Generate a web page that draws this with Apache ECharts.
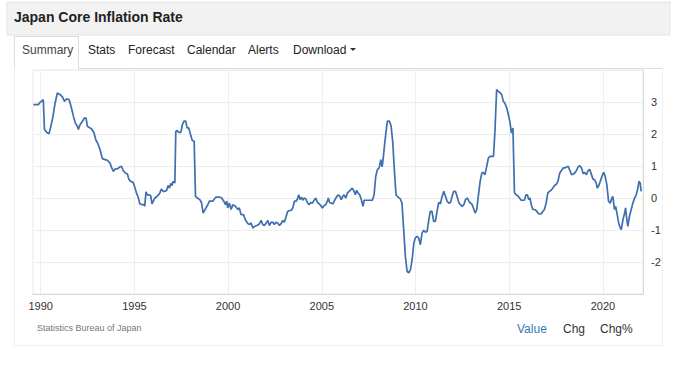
<!DOCTYPE html>
<html>
<head>
<meta charset="utf-8">
<script src="https://cdn.jsdelivr.net/npm/echarts@6/dist/echarts.min.js"></script>
<style>
html,body{margin:0;padding:0;background:#fff;}
#chart{width:679px;height:370px;}
</style>
</head>
<body>
<div id="chart"></div>
<script>
// Data (year as decimal, core inflation %)
const years = [
1989.61,1989.88,1989.97,1990.14,1990.20,1990.33,1990.45,1990.54,1990.64,1990.77,1990.89,1991.04,1991.16,1991.27,1991.39,1991.52,1991.62,1991.75,1991.85,1991.96,
1992.01,1992.10,1992.23,1992.33,1992.42,1992.49,1992.64,1992.74,1992.85,1992.94,1993.05,1993.17,1993.29,1993.44,1993.56,1993.70,1993.79,1993.88,1993.97,1994.09,
1994.22,1994.31,1994.40,1994.52,1994.63,1994.70,1994.81,1994.93,1995.02,1995.11,1995.20,1995.29,1995.41,1995.52,1995.55,1995.62,1995.69,1995.78,1995.87,1995.94,
1996.01,1996.09,1996.17,1996.26,1996.36,1996.44,1996.53,1996.62,1996.71,1996.80,1996.87,1996.94,1997.01,1997.06,1997.16,1997.21,1997.28,1997.37,1997.48,1997.56,
1997.65,1997.74,1997.81,1997.90,1998.01,1998.09,1998.19,1998.26,1998.36,1998.49,1998.58,1998.67,1998.79,1998.92,1999.00,1999.18,1999.27,1999.36,1999.54,1999.66,
1999.77,1999.86,1999.93,1999.98,2000.07,2000.16,2000.25,2000.39,2000.52,2000.60,2000.69,2000.82,2000.92,2001.05,2001.14,2001.23,2001.32,2001.40,2001.53,2001.64,
2001.76,2001.85,2001.94,2002.03,2002.12,2002.20,2002.29,2002.39,2002.47,2002.56,2002.65,2002.74,2002.83,2002.92,2003.00,2003.10,2003.18,2003.27,2003.36,2003.45,
2003.54,2003.63,2003.70,2003.77,2003.84,2003.91,2003.98,2004.06,2004.15,2004.23,2004.32,2004.41,2004.50,2004.59,2004.68,2004.77,2004.86,2004.95,2005.03,2005.12,
2005.21,2005.30,2005.35,2005.42,2005.51,2005.60,2005.69,2005.80,2005.88,2005.97,2006.04,2006.12,2006.19,2006.28,2006.37,2006.46,2006.55,2006.63,2006.72,2006.79,
2006.86,2006.93,2007.02,2007.11,2007.20,2007.26,2007.35,2007.52,2007.70,2007.79,2007.88,2007.97,2008.06,2008.15,2008.22,2008.27,2008.36,2008.43,2008.50,2008.61,
2008.70,2008.79,2008.87,2008.96,2009.07,2009.19,2009.28,2009.37,2009.46,2009.55,2009.64,2009.73,2009.82,2009.91,2009.99,2010.08,2010.17,2010.26,2010.35,2010.44,
2010.53,2010.62,2010.71,2010.79,2010.88,2010.97,2011.06,2011.15,2011.24,2011.33,2011.42,2011.51,2011.60,2011.69,2011.78,2011.87,2011.95,2012.04,2012.13,2012.22,
2012.31,2012.40,2012.49,2012.58,2012.67,2012.76,2012.85,2012.93,2013.00,2013.09,2013.18,2013.27,2013.36,2013.45,2013.54,2013.62,2013.71,2013.80,2013.89,2013.98,
2014.07,2014.16,2014.24,2014.33,2014.42,2014.51,2014.60,2014.69,2014.78,2014.87,2014.96,2015.05,2015.12,2015.20,2015.28,2015.37,2015.46,2015.55,2015.64,2015.73,
2015.81,2015.90,2015.97,2016.04,2016.11,2016.18,2016.26,2016.35,2016.44,2016.53,2016.61,2016.70,2016.79,2016.88,2016.97,2017.06,2017.15,2017.24,2017.33,2017.42,
2017.51,2017.60,2017.70,2017.79,2017.88,2017.97,2018.06,2018.15,2018.24,2018.33,2018.42,2018.50,2018.59,2018.68,2018.77,2018.86,2018.95,2019.03,2019.12,2019.21,
2019.30,2019.39,2019.47,2019.56,2019.65,2019.70,2019.78,2019.86,2019.95,2020.04,2020.12,2020.21,2020.30,2020.39,2020.48,2020.53,2020.62,2020.68,2020.75,2020.84,
2020.93,2020.98,2021.07,2021.16,2021.21,2021.28,2021.33,2021.42,2021.51,2021.60,2021.69,2021.78,2021.87,2021.92,2021.99,2022.04
];
const values = [
2.92,2.92,2.99,3.07,2.14,2.05,2.01,2.24,2.50,2.97,3.28,3.23,3.16,3.02,3.10,3.07,2.86,2.55,2.34,2.24,
2.14,2.29,2.40,2.50,2.50,2.24,2.19,2.14,2.03,1.82,1.70,1.51,1.23,1.20,1.18,1.09,0.94,0.83,0.91,0.91,
0.97,0.99,0.86,0.78,0.75,0.59,0.52,0.49,0.34,0.16,0.03,-0.18,-0.21,-0.21,-0.26,0.19,0.10,0.10,0.07,-0.18,
-0.10,0.00,0.03,0.08,0.16,0.28,0.21,0.21,0.23,0.39,0.31,0.45,0.39,0.52,0.47,2.08,2.11,2.05,2.05,2.29,
2.40,2.40,2.19,2.19,1.95,1.80,1.77,0.05,0.00,-0.05,-0.14,-0.47,-0.34,-0.21,-0.10,-0.10,-0.03,0.03,0.03,0.00,
-0.10,-0.21,-0.10,-0.31,-0.16,-0.36,-0.21,-0.26,-0.36,-0.31,-0.52,-0.52,-0.68,-0.80,-0.83,-0.78,-0.94,-0.89,-0.86,-0.83,
-0.70,-0.83,-0.86,-0.78,-0.70,-0.86,-0.76,-0.76,-0.83,-0.76,-0.78,-0.86,-0.80,-0.70,-0.76,-0.57,-0.42,-0.39,-0.39,-0.31,
-0.10,-0.10,-0.03,0.10,-0.05,0.03,-0.07,0.00,-0.03,-0.14,-0.21,-0.14,-0.16,-0.07,0.00,-0.14,-0.18,-0.24,-0.31,-0.24,
-0.21,-0.10,0.00,-0.14,-0.16,-0.18,-0.07,0.05,0.10,0.05,-0.05,0.05,0.10,0.00,0.16,0.21,0.26,0.31,0.21,0.10,
0.24,0.16,0.10,-0.05,-0.26,-0.07,-0.07,-0.07,-0.07,0.10,0.68,0.89,0.94,1.20,0.97,1.20,1.72,2.08,2.40,2.40,
2.24,1.72,0.89,0.10,0.03,-0.03,-0.16,-0.99,-1.82,-2.29,-2.34,-2.24,-1.93,-1.41,-1.25,-1.20,-1.25,-1.46,-1.09,-1.01,
-1.07,-1.04,-0.68,-0.42,-0.42,-0.73,-0.73,-0.42,-0.14,-0.18,0.05,0.21,0.05,-0.10,-0.16,-0.14,0.05,0.21,0.21,0.05,
-0.14,-0.21,-0.26,-0.21,-0.05,0.00,-0.10,-0.16,-0.18,-0.31,-0.47,-0.36,0.10,0.52,0.78,0.80,0.73,0.99,1.25,1.30,
1.30,1.30,2.08,3.39,3.33,3.30,3.23,3.02,2.95,2.81,2.60,2.34,2.03,2.19,0.16,0.10,0.07,0.00,-0.07,-0.07,
-0.07,0.10,0.10,-0.05,0.00,-0.21,-0.36,-0.36,-0.39,-0.47,-0.50,-0.50,-0.42,-0.36,-0.16,0.16,0.21,0.24,0.31,0.39,
0.42,0.52,0.78,0.86,0.94,0.94,0.97,0.99,0.86,0.73,0.75,0.78,0.86,0.97,1.01,0.94,0.76,0.80,0.73,0.86,
0.89,0.73,0.59,0.57,0.45,0.31,0.39,0.52,0.68,0.80,0.68,0.42,-0.10,-0.16,0.00,0.05,-0.36,-0.26,-0.47,-0.78,
-0.94,-0.99,-0.68,-0.47,-0.31,-0.68,-0.89,-0.57,-0.36,-0.16,0.00,0.10,0.31,0.52,0.47,0.21
];
const xTicks = [1990, 1995, 2000, 2005, 2010, 2015, 2020];
const yTicks = [-2, -1, 0, 1, 2, 3];
const tabs = ['Summary', 'Stats', 'Forecast', 'Calendar', 'Alerts', 'Download'];
const title = 'Japan Core Inflation Rate';
const source = 'Statistics Bureau of Japan';
const modes = ['Value', 'Chg', 'Chg%'];

const FONT = '"Liberation Sans", Arial, Helvetica, sans-serif';
const chart = echarts.init(document.getElementById('chart'), null, {renderer: 'svg'});

const tabX = [22, 88, 128, 187, 248, 293];
const modeX = [517, 563, 600];
const graphics = [
  {type: 'rect', shape: {x: 7, y: 2, width: 663, height: 33}, style: {fill: '#f2f2f2', stroke: '#e3e3e3', lineWidth: 1}, silent: true, z: 0},
  {type: 'text', left: 14, top: 10, style: {text: title, font: 'bold 14px ' + FONT, fill: '#222'}, z: 2},
  // tab frame
  {type: 'polyline', shape: {points: [[14.5, 68], [14.5, 36.5], [78.5, 36.5], [78.5, 68.5], [662, 68.5]]}, style: {stroke: '#dddddd', lineWidth: 1, fill: null}, silent: true, z: 1},
  // panel frame
  {type: 'polyline', shape: {points: [[14.5, 68], [14.5, 345.5], [662.5, 345.5], [662.5, 68]]}, style: {stroke: '#f0f0f0', lineWidth: 1, fill: null}, silent: true, z: 1},
  {type: 'text', left: 37, top: 323, style: {text: source, font: '9px ' + FONT, fill: '#777'}, z: 2}
];
tabs.forEach((t, i) => {
  graphics.push({type: 'text', left: tabX[i], top: 44, style: {text: t, font: '12px ' + FONT, fill: i === 0 ? '#444' : '#222'}, z: 2});
});
graphics.push({type: 'polygon', shape: {points: [[350, 48], [356, 48], [353, 51]]}, style: {fill: '#333'}, z: 2});
modes.forEach((t, i) => {
  graphics.push({type: 'text', left: modeX[i], top: 323, style: {text: t, font: '12px ' + FONT, fill: i === 0 ? '#337ab7' : '#333'}, z: 2});
});

chart.setOption({
  animation: false,
  backgroundColor: '#ffffff',
  textStyle: {fontFamily: FONT},
  graphic: graphics,
  grid: {left: 33, right: 36, top: 70, bottom: 76, show: true, borderColor: '#e8e8e8', borderWidth: 1},
  xAxis: {
    type: 'value',
    min: 1989.59,
    max: 2022.14,
    splitLine: {show: false},
    axisLine: {show: true, onZero: false, lineStyle: {color: '#d8d8d8'}},
    axisTick: {show: false, customValues: xTicks},
    axisLabel: {customValues: xTicks, color: '#333', fontSize: 11, margin: 6, fontFamily: FONT,
      formatter: v => String(Math.round(v))}
  },
  yAxis: {
    type: 'value',
    position: 'right',
    min: -3,
    max: 4,
    interval: 1,
    axisLine: {show: true, onZero: false, lineStyle: {color: '#d8d8d8'}},
    axisTick: {show: false},
    splitLine: {show: true, lineStyle: {color: '#eeeeee'}},
    axisLabel: {color: '#333', fontSize: 11, margin: 8, fontFamily: FONT,
      formatter: v => (yTicks.indexOf(v) >= 0 ? String(v) : '')}
  },
  series: [{
    type: 'line',
    data: years.map((y, i) => [y, values[i]]),
    showSymbol: false,
    lineStyle: {color: '#3f6fae', width: 1.7},
    smooth: false,
    z: 3,
    markLine: {
      silent: true,
      symbol: ['none', 'none'],
      label: {show: false},
      lineStyle: {color: '#eeeeee', type: 'solid', width: 1},
      data: xTicks.map(x => ({xAxis: x})),
      z: 1
    }
  }]
});
</script>
</body>
</html>
